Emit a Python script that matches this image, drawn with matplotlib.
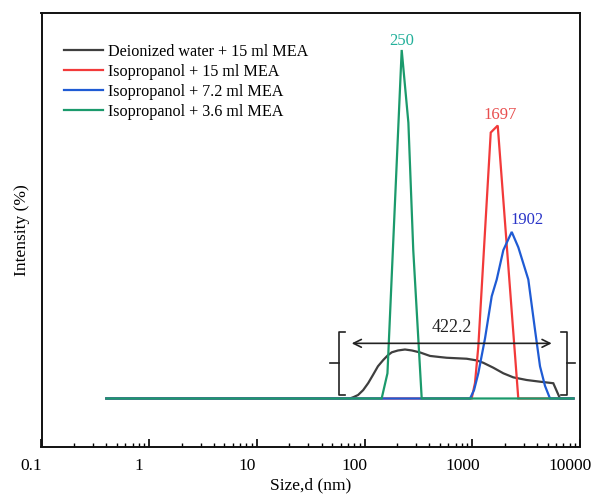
import matplotlib
matplotlib.use("Agg")
import matplotlib.pyplot as plt
from matplotlib.transforms import ScaledTranslation

plt.rcParams['font.family'] = ['Liberation Serif', 'DejaVu Serif']

# ---- data (size in nm, intensity in %) ----
black_x = [0.4, 73, 79, 87, 97, 108, 120, 133, 149, 165, 179, 204, 237, 275, 327,
           405, 501, 578, 887, 1100, 1265, 1566, 1941, 2403, 3200, 4253, 5650, 6520, 8700]
black_y = [0, 0, 0.1, 0.25, 0.6, 1.1, 1.7, 2.3, 2.75, 3.1, 3.3, 3.43, 3.5, 3.43, 3.29,
           3.04, 2.96, 2.91, 2.84, 2.72, 2.55, 2.2, 1.8, 1.51, 1.32, 1.2, 1.09, 0, 0]

red_x = [0.4, 986, 1059, 1137, 1483, 1722, 2673, 8700]
red_y = [0, 0, 1.1, 3.7, 19.0, 19.5, 0, 0]

blue_x = [0.4, 953, 1038, 1137, 1313, 1514, 1686, 1942, 2323, 2675, 3312, 3822,
          4253, 4733, 5265, 8700]
blue_y = [0, 0, 0.6, 1.8, 4.3, 7.3, 8.5, 10.6, 11.9, 10.8, 8.5, 4.9,
          2.3, 0.9, 0, 0]

green_x = [0.4, 144, 163, 221, 255, 283, 339, 8700]
green_y = [0, 0, 1.8, 24.9, 19.7, 10.6, 0, 0]

labels = ["Deionized water + 15 ml MEA", "Isopropanol + 15 ml MEA",
          "Isopropanol + 7.2 ml MEA", "Isopropanol + 3.6 ml MEA"]
peak_texts = ["1697", "1902", "250"]
span_text = "422.2"
tick_vals = [0.1, 1, 10, 100, 1000, 10000]
tick_labels = ["0.1", "1", "10", "100", "1000", "10000"]

colors = ["#3f3f3f", "#f23a3a", "#1f5bd4", "#1b9a6c"]

fig = plt.figure(figsize=(5.94, 4.96), dpi=100)
ax = fig.add_axes([41.5 / 594, 1 - 446.5 / 496, (580 - 41.5) / 594, (446.5 - 13) / 496])

series = [(black_x, black_y), (red_x, red_y), (blue_x, blue_y), (green_x, green_y)]
for (xs, ys), c, lab in zip(series, colors, labels):
    ax.plot(xs, ys, color=c, lw=1.6, label=lab, solid_joinstyle='miter')

ax.set_xscale('log')
ax.set_xlim(0.1, 10000)
ax.set_ylim(-3.43, 27.54)
ax.set_yticks([])
ax.set_xticks(tick_vals)
ax.set_xticklabels(tick_labels)
ax.tick_params(axis='x', which='major', direction='in', length=5.5, width=1.2,
               labelsize=12.5, pad=8, top=False)
ax.tick_params(axis='x', which='minor', direction='in', length=2.8, width=1.0, top=False)
for sp in ax.spines.values():
    sp.set_linewidth(1.4)
    sp.set_color('#111111')

off = ScaledTranslation(-10 / 100, 0, fig.dpi_scale_trans)
for t in ax.xaxis.get_major_ticks():
    t.label1.set_transform(t.label1.get_transform() + off)

ax.set_xlabel("Size,d (nm)", fontsize=12.5, labelpad=3)
ax.set_ylabel("Intensity (%)", fontsize=12.5, labelpad=8)

leg = ax.legend(loc='upper left', bbox_to_anchor=(0.042, 0.929), frameon=False,
                fontsize=11.6, handlelength=2.4, handletextpad=0.3,
                labelspacing=0.25, borderpad=0, borderaxespad=0)

# peak labels
ax.annotate(peak_texts[0], xy=(red_x[5], red_y[5]), xytext=(1.7, 7.9),
            textcoords='offset points', ha='center', va='center',
            color='#e84e4e', fontsize=12)
ax.annotate(peak_texts[1], xy=(blue_x[8], blue_y[8]), xytext=(10.8, 8.9),
            textcoords='offset points', ha='center', va='center',
            color='#2a35c8', fontsize=12)
ax.annotate(peak_texts[2], xy=(green_x[3], green_y[3]), xytext=(0, 6.7),
            textcoords='offset points', ha='center', va='center',
            color='#22b09a', fontsize=12)

# span bracket and arrow
bl, br = 58.2, 7520
ytop, ybot, ymid = 4.77, 0.25, 2.54
kc = '#222222'
ax.plot([bl * 1.12, bl, bl, bl * 1.12], [ytop, ytop, ybot, ybot], color=kc, lw=1.2)
ax.plot([bl, bl * 0.82], [ymid, ymid], color=kc, lw=1.2)
ax.plot([br / 1.12, br, br, br / 1.12], [ytop, ytop, ybot, ybot], color=kc, lw=1.2)
ax.plot([br, br * 1.2], [ymid, ymid], color=kc, lw=1.2)
ax.annotate('', xy=(75.9, 3.94), xytext=(5460, 3.94),
            arrowprops=dict(arrowstyle='<->', color=kc, lw=1.2,
                            shrinkA=0, shrinkB=0, mutation_scale=14))
ax.text(640, 5.04, span_text, ha='center', va='center', fontsize=13, color='#222222')

fig.savefig('out.png', dpi=100)
